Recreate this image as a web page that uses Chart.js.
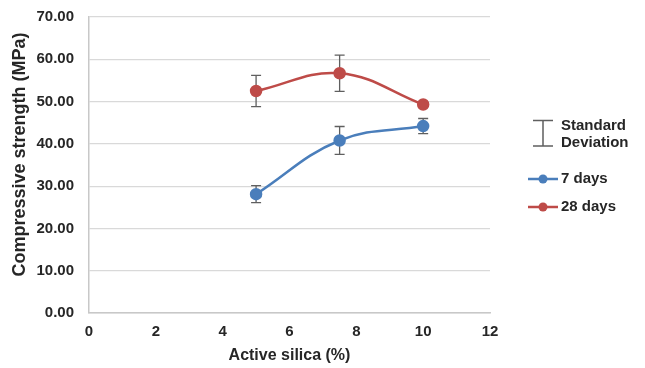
<!DOCTYPE html>
<html>
<head>
<meta charset="utf-8">
<script src="https://cdn.jsdelivr.net/npm/chart.js@4.4.1/dist/chart.umd.min.js"></script>
<style>
html,body{margin:0;padding:0;background:#fff;}
#wrap{width:645px;height:368px;position:relative;}
</style>
</head>
<body>
<div id="wrap"><canvas id="c" width="645" height="368"></canvas></div>
<script>
const silica = [5, 7.5, 10];
const days7 = [28.1, 40.8, 44.2];
const days7Err = [2.0, 3.3, 1.8];
const days28 = [52.5, 56.7, 49.3];
const days28Err = [3.7, 4.3, 0.4];
const seriesNames = ['7 days', '28 days'];
const seriesColors = ['#4a7ebb', '#be4b48'];
const sdLabel = ['Standard', 'Deviation'];
const xTicks = [0, 2, 4, 6, 8, 10, 12];
const yTicks = [0, 10, 20, 30, 40, 50, 60, 70];
const yTitle = 'Compressive strength (MPa)';
const xTitle = 'Active silica (%)';

const FONT = 'Arial, "Liberation Sans", sans-serif';
const TEXT = '#262626';

const errorBars = {
  id: 'errorBars',
  beforeDatasetsDraw(chart) {
    const ctx = chart.ctx, xs = chart.scales.x, ys = chart.scales.y;
    ctx.save();
    ctx.strokeStyle = '#5f5f5f';
    ctx.lineWidth = 1.3;
    chart.data.datasets.forEach(ds => {
      ds.data.forEach((p, i) => {
        const e = ds.errors[i];
        const x = xs.getPixelForValue(p.x);
        const y1 = ys.getPixelForValue(p.y + e);
        const y2 = ys.getPixelForValue(p.y - e);
        ctx.beginPath();
        ctx.moveTo(x, y1); ctx.lineTo(x, y2);
        ctx.moveTo(x - 5, y1); ctx.lineTo(x + 5, y1);
        ctx.moveTo(x - 5, y2); ctx.lineTo(x + 5, y2);
        ctx.stroke();
      });
    });
    ctx.restore();
  }
};

const customLegend = {
  id: 'customLegend',
  afterDraw(chart) {
    const ctx = chart.ctx;
    ctx.save();
    ctx.fillStyle = TEXT;
    ctx.font = 'bold 18px ' + FONT;
    ctx.textAlign = 'center';
    ctx.textBaseline = 'middle';
    ctx.translate(20, 154.5);
    ctx.rotate(-Math.PI / 2);
    ctx.fillText(yTitle, 0, 0);
    ctx.restore();

    ctx.save();
    ctx.strokeStyle = '#5f5f5f';
    ctx.lineWidth = 1.5;
    ctx.beginPath();
    ctx.moveTo(543, 120.5); ctx.lineTo(543, 146);
    ctx.moveTo(533, 120.5); ctx.lineTo(553, 120.5);
    ctx.moveTo(533, 146); ctx.lineTo(553, 146);
    ctx.stroke();
    ctx.fillStyle = TEXT;
    ctx.font = 'bold 15px ' + FONT;
    ctx.textBaseline = 'middle';
    ctx.textAlign = 'left';
    ctx.fillText(sdLabel[0], 561, 126);
    ctx.fillText(sdLabel[1], 561, 143);
    const ys = [179, 207];
    seriesNames.forEach((n, i) => {
      const y = ys[i];
      ctx.strokeStyle = seriesColors[i];
      ctx.lineWidth = 2.5;
      ctx.beginPath(); ctx.moveTo(528, y); ctx.lineTo(558, y); ctx.stroke();
      ctx.fillStyle = seriesColors[i];
      ctx.beginPath(); ctx.arc(543, y, 4.5, 0, Math.PI * 2); ctx.fill();
      ctx.fillStyle = TEXT;
      ctx.fillText(n, 561, y);
    });
    ctx.restore();
  }
};

const mk = (vals) => silica.map((x, i) => ({x: x, y: vals[i]}));

new Chart(document.getElementById('c'), {
  type: 'line',
  data: {
    datasets: [
      {label: seriesNames[0], data: mk(days7), errors: days7Err,
       borderColor: seriesColors[0], backgroundColor: seriesColors[0],
       pointBackgroundColor: seriesColors[0], pointBorderColor: seriesColors[0],
       borderWidth: 2.5, pointRadius: 5, tension: 0.4, fill: false},
      {label: seriesNames[1], data: mk(days28), errors: days28Err,
       borderColor: seriesColors[1], backgroundColor: seriesColors[1],
       pointBackgroundColor: seriesColors[1], pointBorderColor: seriesColors[1],
       borderWidth: 2.5, pointRadius: 5, tension: 0.4, fill: false}
    ]
  },
  options: {
    responsive: false,
    animation: false,
    layout: {padding: {left: 0, right: 155, top: 17, bottom: 0}},
    plugins: {legend: {display: false}, tooltip: {enabled: false}},
    scales: {
      x: {
        type: 'linear', min: 0, max: 12,
        afterBuildTicks: s => { s.ticks = xTicks.map(v => ({value: v})); },
        afterFit: s => { s.height = 55; },
        grid: {display: true, drawTicks: false, color: 'rgba(0,0,0,0)'},
        border: {display: true, color: '#c8c8c8', width: 1.5},
        ticks: {padding: 10, color: TEXT, font: {family: FONT, size: 15, weight: 'bold'}},
        title: {display: true, text: xTitle, color: TEXT,
                font: {family: FONT, size: 16, weight: 'bold'}, padding: {top: 0, bottom: 3}}
      },
      y: {
        type: 'linear', min: 0, max: 70,
        afterBuildTicks: s => { s.ticks = yTicks.map(v => ({value: v})); },
        afterFit: s => { s.width = 89; s.paddingTop = 9; s.paddingBottom = 9; },
        grid: {drawTicks: false, color: '#d9d9d9', lineWidth: 1.2},
        border: {display: true, color: '#c8c8c8', width: 1.5},
        ticks: {padding: 15, color: TEXT, font: {family: FONT, size: 15, weight: 'bold'},
                callback: v => Number(v).toFixed(2)},
        title: {display: false}
      }
    }
  },
  plugins: [errorBars, customLegend]
});
</script>
</body>
</html>
